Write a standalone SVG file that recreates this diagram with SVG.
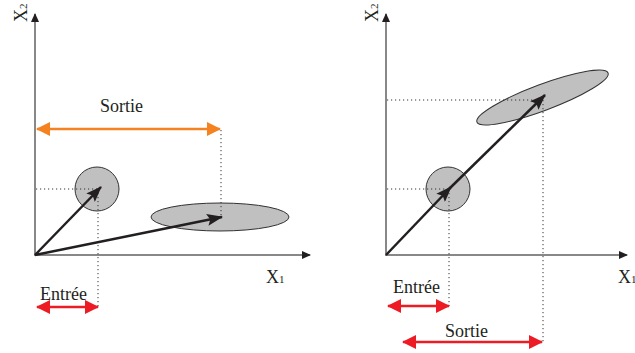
<svg xmlns="http://www.w3.org/2000/svg" width="635" height="353" viewBox="0 0 635 353">
<style>
.axis{stroke:#606060;stroke-width:1.5;fill:none}
.dot{stroke:#333;stroke-width:1;stroke-dasharray:1.2,2.8;fill:none}
.shape{fill:#c0c0c1;stroke:#333;stroke-width:1}
.vec{stroke:#231f20;stroke-width:2.5;fill:none}
.red{stroke:#ed1c24;stroke-width:2.5;fill:none}
.orange{stroke:#f58220;stroke-width:2.5;fill:none}
text{font-family:"Liberation Serif","Times New Roman",serif;fill:#231f20}
.lbl{font-size:18px}
</style>
<defs>
<marker id="ax" markerWidth="10" markerHeight="8" refX="8" refY="4" orient="auto" markerUnits="userSpaceOnUse"><path d="M0,0 L9,4 L0,8 Z" fill="#231f20"/></marker>
<marker id="vh" markerWidth="16" markerHeight="12" refX="15" refY="6" orient="auto" markerUnits="userSpaceOnUse"><path d="M0,0 L16,6 L0,12 L3,6 Z" fill="#231f20"/></marker>
<marker id="rh" markerWidth="14" markerHeight="14" refX="13" refY="7" orient="auto-start-reverse" markerUnits="userSpaceOnUse"><path d="M0,0 L14,7 L0,14 Z" fill="#ed1c24"/></marker>
<marker id="oh" markerWidth="14" markerHeight="14" refX="13" refY="7" orient="auto-start-reverse" markerUnits="userSpaceOnUse"><path d="M0,0 L14,7 L0,14 Z" fill="#f58220"/></marker>
</defs>

<g id="left-panel">
  <g id="left-axes">
    <line class="axis" x1="35" y1="256" x2="35" y2="14" marker-end="url(#ax)"/>
    <line class="axis" x1="35" y1="255" x2="310" y2="255" marker-end="url(#ax)"/>
    <text transform="translate(27,22) rotate(-90)" font-size="18">X<tspan font-size="11">2</tspan></text>
    <text x="266" y="283" font-size="18">X<tspan font-size="11">1</tspan></text>
  </g>
  <g id="left-input">
    <circle class="shape" cx="97" cy="189" r="22"/>
  </g>
  <g id="left-output">
    <ellipse class="shape" cx="220" cy="217" rx="69" ry="14"/>
  </g>
  <g id="left-connectors">
    <line class="dot" x1="36" y1="189" x2="98" y2="189"/>
    <line class="dot" x1="98" y1="189" x2="98" y2="307"/>
    <line class="dot" x1="221" y1="130" x2="221" y2="217"/>
    <line class="vec" x1="35" y1="255" x2="101" y2="187" marker-end="url(#vh)"/>
    <line class="vec" x1="35" y1="255" x2="222" y2="217" marker-end="url(#vh)"/>
    <line class="orange" x1="37" y1="129" x2="220" y2="129" marker-start="url(#oh)" marker-end="url(#oh)"/>
    <line class="red" x1="37" y1="307" x2="98" y2="307" marker-start="url(#rh)" marker-end="url(#rh)"/>
  </g>
  <text class="lbl" x="100" y="112">Sortie</text>
  <text class="lbl" x="40" y="300">Entrée</text>
</g>

<g id="right-panel">
  <g id="right-axes">
    <line class="axis" x1="386" y1="256" x2="386" y2="14" marker-end="url(#ax)"/>
    <line class="axis" x1="386" y1="255" x2="627" y2="255" marker-end="url(#ax)"/>
    <text transform="translate(378,22) rotate(-90)" font-size="18">X<tspan font-size="11">2</tspan></text>
    <text x="618" y="283" font-size="18">X<tspan font-size="11">1</tspan></text>
  </g>
  <g id="right-input">
    <circle class="shape" cx="448" cy="189" r="22"/>
  </g>
  <g id="right-output">
    <ellipse class="shape" cx="542.5" cy="97.5" rx="70" ry="13" transform="rotate(-20.5 542.5 97.5)"/>
  </g>
  <g id="right-connectors">
    <line class="dot" x1="387" y1="189" x2="449" y2="189"/>
    <line class="dot" x1="449" y1="189" x2="449" y2="306"/>
    <line class="dot" x1="387" y1="100" x2="543" y2="100"/>
    <line class="dot" x1="543" y1="100" x2="543" y2="342"/>
    <line class="vec" x1="386" y1="255" x2="451" y2="187" marker-end="url(#vh)"/>
    <line class="vec" x1="449" y1="189" x2="545" y2="95" marker-end="url(#vh)"/>
    <line class="red" x1="388" y1="306" x2="449" y2="306" marker-start="url(#rh)" marker-end="url(#rh)"/>
    <line class="red" x1="403" y1="342" x2="542" y2="342" marker-start="url(#rh)" marker-end="url(#rh)"/>
  </g>
  <text class="lbl" x="393" y="293">Entrée</text>
  <text class="lbl" x="445" y="337">Sortie</text>
</g>
</svg>
